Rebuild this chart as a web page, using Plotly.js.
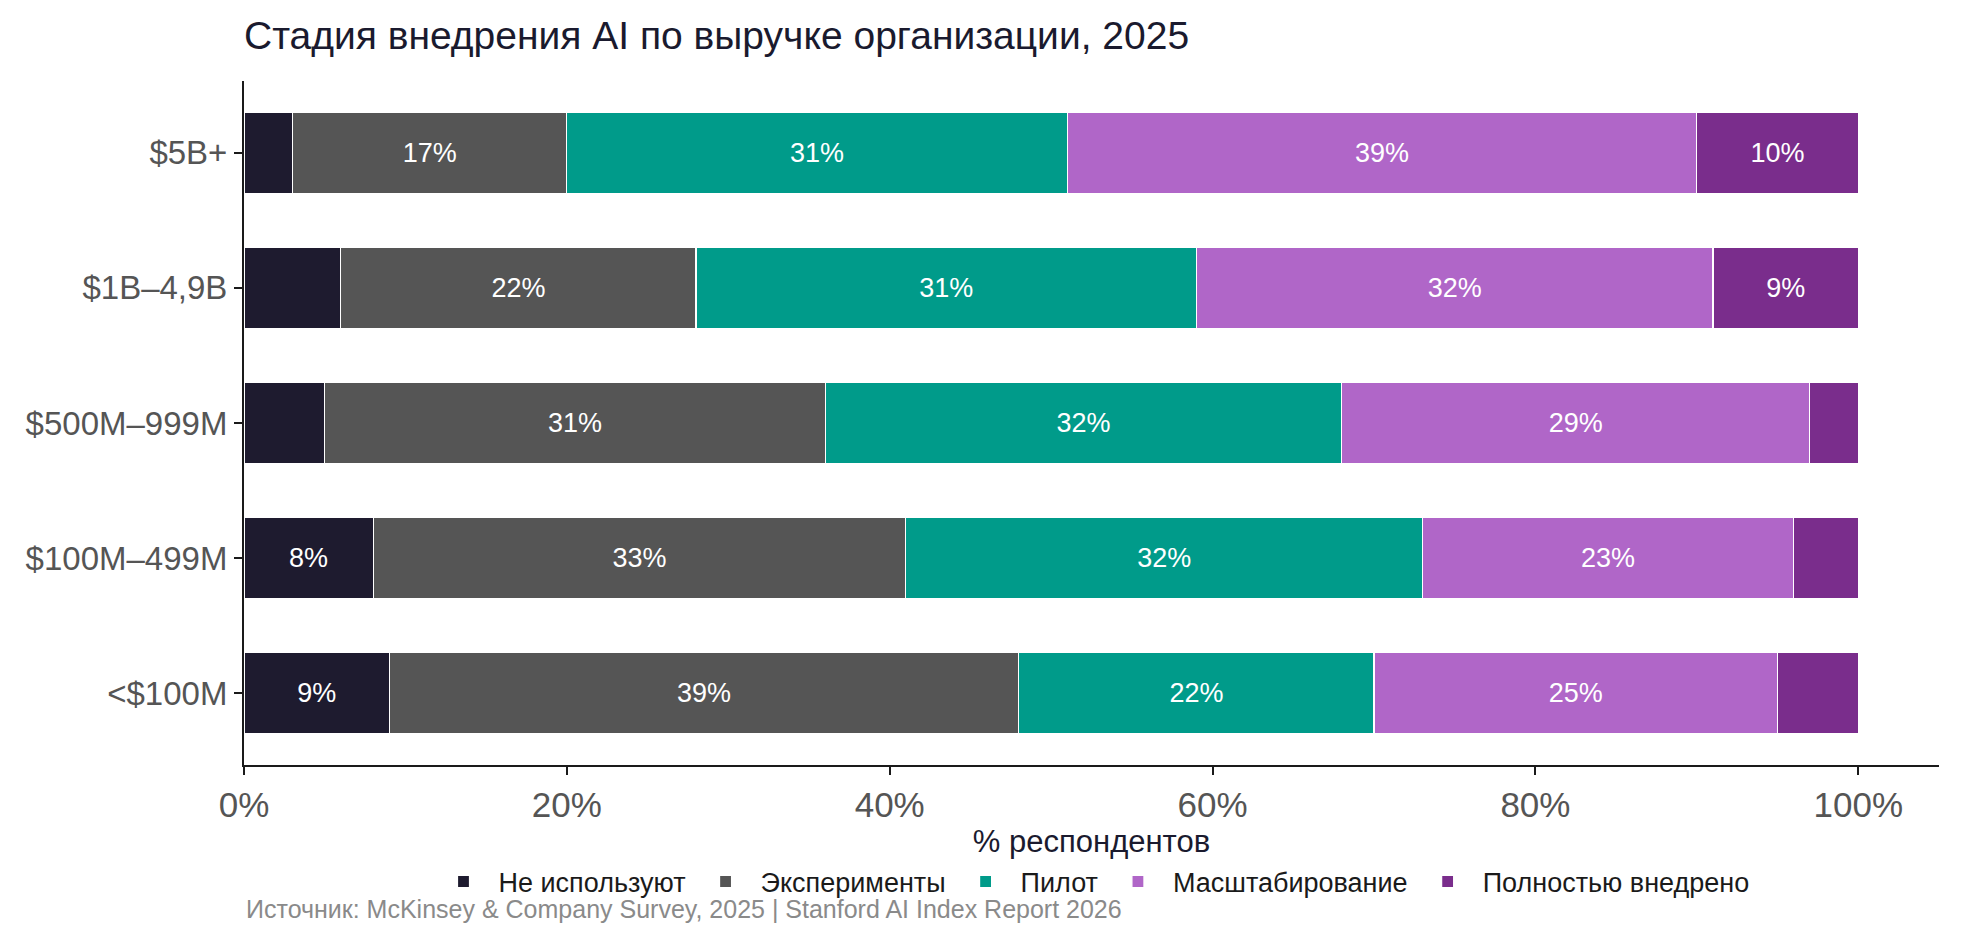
<!DOCTYPE html>
<html>
<head>
<meta charset="utf-8">
<script src="https://cdn.plot.ly/plotly-3.0.1.min.js"></script>
<style>
  body { margin: 0; background: #fff; }
  #chart { width: 1962px; height: 943px; }
</style>
</head>
<body>
<div id="chart"></div>
<script>
// Revenue groups, bottom to top
const revenueGroups = ["<$100M", "$100M–499M", "$500M–999M", "$1B–4,9B", "$5B+"];

// Share of respondents per stage (%), same order as revenueGroups
const notUsing    = [9, 8, 5, 6, 3];
const experiments = [39, 33, 31, 22, 17];
const pilot       = [22, 32, 32, 31, 31];
const scaling     = [25, 23, 29, 32, 39];
const fullyDone   = [5, 4, 3, 9, 10];

const stageNames = ["Не используют", "Эксперименты", "Пилот", "Масштабирование", "Полностью внедрено"];
const stageColors = ["#1e1b2f", "#555555", "#009b8a", "#b066c8", "#7a2d8c"];
const xTicks = [0, 20, 40, 60, 80, 100];

// label only segments big enough to hold text
function labels(vals) {
    return vals.map(v => v >= 7 ? v + "%" : "");
}

const series = [notUsing, experiments, pilot, scaling, fullyDone];

let data = series.map((vals, i) => ({
    type: "bar",
    orientation: "h",
    name: stageNames[i],
    y: revenueGroups,
    x: vals,
    text: labels(vals),
    textposition: "inside",
    insidetextanchor: "middle",
    textangle: 0,
    textfont: { color: "#ffffff", size: 27, family: "Liberation Sans, Arial, sans-serif" },
    marker: { color: stageColors[i], line: { color: "#ffffff", width: 1.2 } },
    hoverinfo: "name+x"
}));

let layout = {
    width: 1962,
    height: 943,
    barmode: "stack",
    bargap: 0.4,
    paper_bgcolor: "#ffffff",
    plot_bgcolor: "#ffffff",
    margin: { t: 81, b: 178, l: 244, r: 23 },
    font: { family: "Liberation Sans, Arial, sans-serif", color: "#1a1a2e" },
    title: {
        text: "Стадия внедрения AI по выручке организации, 2025",
        font: { size: 39, color: "#1a1a2e" },
        x: 0, xref: "paper", xanchor: "left",
        y: 0.963, yref: "container", yanchor: "middle"
    },
    xaxis: {
        range: [0, 105],
        tickvals: xTicks,
        ticktext: xTicks.map(v => v + "%"),
        ticks: "outside",
        ticklen: 8,
        tickwidth: 1.5,
        tickcolor: "#1a1a1a",
        tickfont: { size: 35, color: "#555555" },
        showgrid: false,
        zeroline: false,
        showline: true,
        linecolor: "#1a1a1a",
        linewidth: 2,
        title: { text: "% респондентов", font: { size: 31, color: "#1a1a2e" }, standoff: 6 }
    },
    yaxis: {
        range: [-0.53, 4.53],
        ticks: "outside",
        ticklen: 8,
        tickwidth: 1.5,
        tickcolor: "#1a1a1a",
        tickfont: { size: 33, color: "#555555" },
        showgrid: false,
        zeroline: false,
        showline: true,
        linecolor: "#1a1a1a",
        linewidth: 2
    },
    legend: {
        orientation: "h",
        x: 0.5, xanchor: "center",
        y: -0.171, yanchor: "middle",
        font: { size: 27, color: "#1a1a1a" },
        traceorder: "normal",
        itemwidth: 60
    },
    annotations: [{
        text: "Источник: McKinsey & Company Survey, 2025 | Stanford AI Index Report 2026",
        xref: "paper", yref: "paper",
        x: 0, xanchor: "left",
        y: -0.211, yanchor: "middle",
        showarrow: false,
        font: { size: 25, color: "#8a8a8a" }
    }]
};

Plotly.newPlot("chart", data, layout, { displayModeBar: false });
</script>
</body>
</html>
